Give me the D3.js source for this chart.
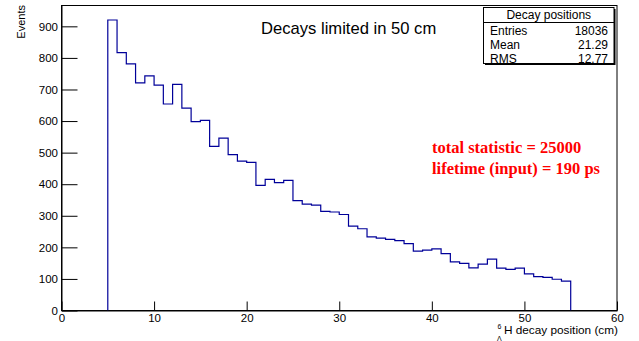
<!DOCTYPE html>
<html>
<head>
<meta charset="utf-8">
<script src="https://cdn.jsdelivr.net/npm/d3@7"></script>
<style>
  body { margin: 0; background: #fff; }
</style>
</head>
<body>
<div id="chart"></div>
<script>
// histogram: 1 cm bins starting at 5 cm
var binStart = 5;
var binWidth = 1;
var counts = [920, 817, 781, 721, 743, 714, 654, 716, 641, 598,
              602, 520, 546, 494, 473, 469, 396, 415, 405, 412,
              348, 337, 334, 314, 312, 304, 267, 259, 233, 229,
              225, 221, 212, 188, 191, 195, 180, 154, 149, 135,
              147, 163, 134, 130, 134, 116, 107, 105, 99, 93];
var xMajor = [0, 10, 20, 30, 40, 50, 60];
var yMajor = [0, 100, 200, 300, 400, 500, 600, 700, 800, 900];
var statRows = [["Entries", "18036"], ["Mean", "21.29"], ["RMS", "12.77"]];
var notes = ["total statistic = 25000", "lifetime (input) = 190 ps"];

var W = 639, H = 341;
var fl = 61.5, fr = 617, ft = 5.5, fb = 310.5;
var sans = "Liberation Sans, Helvetica, Arial, sans-serif";

var svg = d3.select("#chart").append("svg").attr("width", W).attr("height", H)
            .style("font-family", sans);

var x = d3.scaleLinear().domain([0, 60]).range([fl, fr]);
var y = d3.scaleLinear().domain([0, 966]).range([fb, ft]);

// frame
svg.append("rect").attr("x", fl).attr("y", ft).attr("width", fr - fl).attr("height", fb - ft)
   .attr("fill", "none").attr("stroke", "#000").attr("stroke-width", 1);

// histogram outline
var pts = [[binStart, 0]];
counts.forEach(function(v, i) {
    var lo = binStart + i * binWidth;
    pts.push([lo, v]);
    pts.push([lo + binWidth, v]);
});
pts.push([binStart + counts.length * binWidth, 0]);

svg.append("path")
   .datum(pts)
   .attr("d", d3.line().x(function(d) { return x(d[0]); }).y(function(d) { return y(d[1]); }))
   .attr("fill", "none").attr("stroke", "#000099").attr("stroke-width", 1.2);

// axes, ticks drawn inside like ROOT
var xMinor = d3.range(0, 61, 2).filter(function(v) { return v % 10 !== 0; });
var yMinor = d3.range(0, 961, 20).filter(function(v) { return v % 100 !== 0; });

var gx = svg.append("g").attr("transform", "translate(0," + fb + ")");
gx.call(d3.axisBottom(x).tickValues(xMinor).tickSize(-4.6).tickFormat(""));
gx.call(d3.axisBottom(x).tickValues(xMajor).tickSizeInner(-9).tickSizeOuter(0).tickPadding(3).tickFormat(d3.format("d")));

var gy = svg.append("g").attr("transform", "translate(" + fl + ",0)");
gy.call(d3.axisLeft(y).tickValues(yMinor).tickSize(-8).tickFormat(""));
gy.call(d3.axisLeft(y).tickValues(yMajor).tickSizeInner(-16).tickSizeOuter(0).tickPadding(3.5).tickFormat(d3.format("d")));

svg.selectAll("g").attr("font-family", sans);
svg.selectAll(".tick text").attr("font-size", 11.5).attr("fill", "#000");
svg.selectAll(".tick line").attr("stroke", "#000");
svg.selectAll(".domain").attr("stroke", "#000");

// axis titles
svg.append("text").attr("transform", "translate(24.5,5) rotate(-90)")
   .attr("text-anchor", "end").attr("font-size", 11).text("Events");

svg.append("text").attr("x", 618).attr("y", 334).attr("text-anchor", "end")
   .attr("font-size", 11.8).text("H decay position (cm)");
svg.append("text").attr("x", 497.5).attr("y", 328.5).attr("font-size", 7).text("6");
svg.append("text").attr("x", 497).attr("y", 340.5).attr("font-size", 7).text("Λ");

// title
svg.append("text").attr("x", 261).attr("y", 34).attr("font-size", 16.6).text("Decays limited in 50 cm");

// stats box
var sb = {x: 483.5, y: 7.5, w: 130.5, h: 56};
svg.append("rect").attr("x", sb.x + 1.5).attr("y", sb.y + 1.5).attr("width", sb.w).attr("height", sb.h).attr("fill", "#000");
svg.append("rect").attr("x", sb.x).attr("y", sb.y).attr("width", sb.w).attr("height", sb.h)
   .attr("fill", "#fff").attr("stroke", "#000").attr("stroke-width", 1);
svg.append("line").attr("x1", sb.x).attr("x2", sb.x + sb.w).attr("y1", 22.5).attr("y2", 22.5).attr("stroke", "#000");
svg.append("text").attr("x", sb.x + sb.w / 2).attr("y", 19).attr("text-anchor", "middle")
   .attr("font-size", 12).text("Decay positions");
statRows.forEach(function(r, i) {
    var by = 34.5 + i * 14;
    svg.append("text").attr("x", 490).attr("y", by).attr("font-size", 12).text(r[0]);
    svg.append("text").attr("x", 608).attr("y", by).attr("text-anchor", "end").attr("font-size", 12).text(r[1]);
});

// red annotations
notes.forEach(function(t, i) {
    svg.append("text").attr("x", 432).attr("y", 153 + i * 20.5)
       .style("font-family", "Liberation Serif, Times New Roman, serif").attr("font-weight", "bold")
       .attr("font-size", 16.5).attr("fill", "#ff0000").text(t);
});
</script>
</body>
</html>
